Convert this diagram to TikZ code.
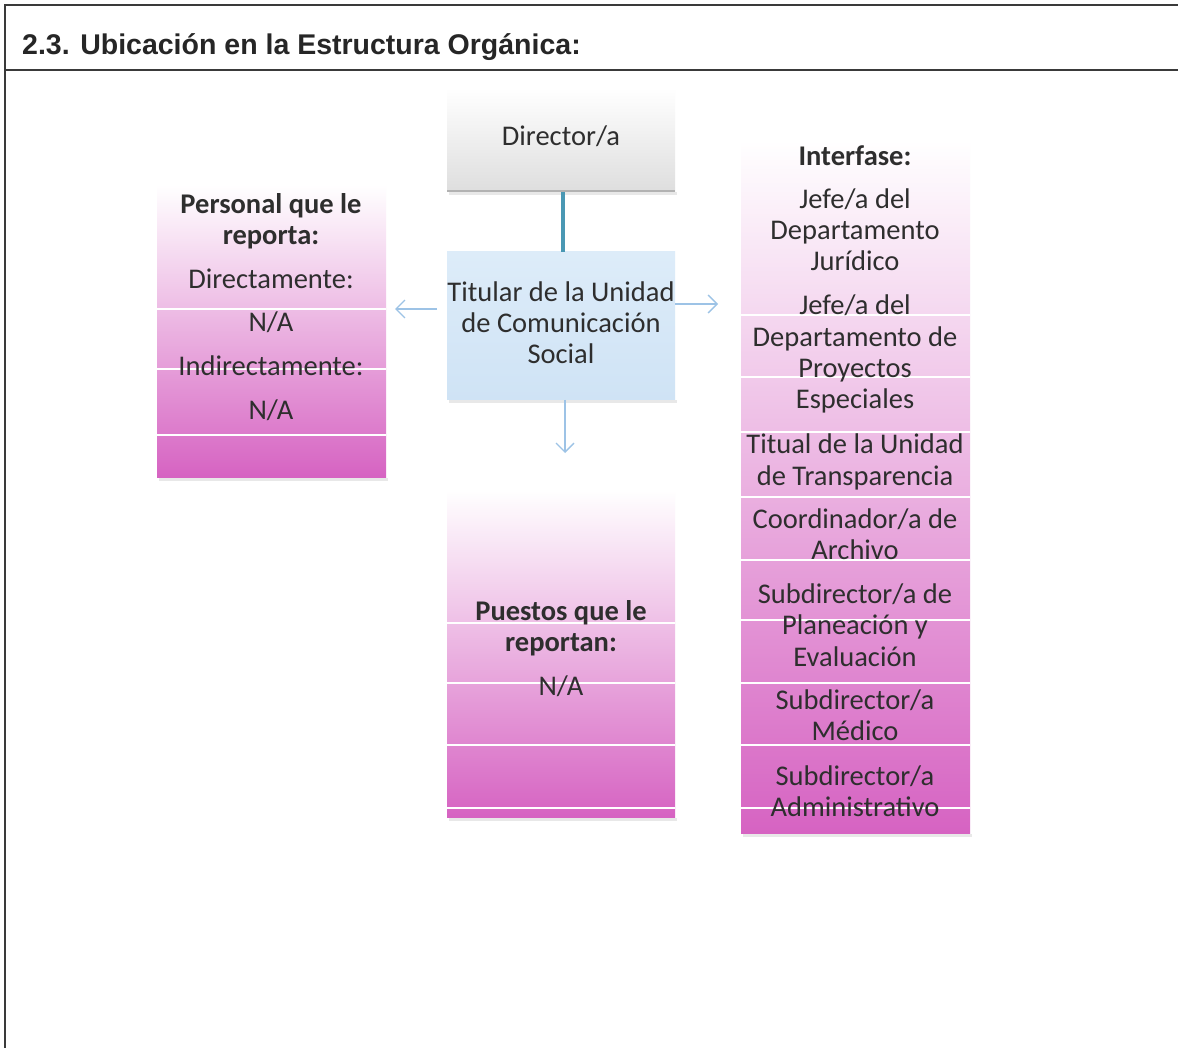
\documentclass[tikz,border=0pt]{standalone}
\usepackage{fontspec}
\setmainfont{Carlito}
\newfontfamily\headfont{Liberation Sans}
\usetikzlibrary{arrows.meta}
\definecolor{mag}{HTML}{D663C2}
\definecolor{magmid}{HTML}{EDB5E3}
\definecolor{arrowblue}{HTML}{9DC3E6}
\definecolor{linkteal}{HTML}{4A98B4}
\definecolor{boxblue}{HTML}{CFE3F5}
\definecolor{boxbluetop}{HTML}{DDECF9}
\definecolor{framegray}{HTML}{3A3A3A}
\begin{document}
\begin{tikzpicture}[x=1pt,y=-1pt,
  txt/.style={font=\fontsize{28.5}{31}\selectfont, inner sep=0pt, anchor=base, text=black!82},
  btxt/.style={txt, font=\bfseries\fontsize{28.5}{31}\selectfont},
  band/.style={draw=white, line width=2pt},
  shadowline/.style={draw=black!9, line width=3pt},
  conn/.style={draw=arrowblue, line width=1.3pt, -{Straight Barb[length=9pt,width=18pt,line width=1.3pt]}}
]
\useasboundingbox (0,0) rectangle (1178,1048);
\fill[white] (0,0) rectangle (1178,1048);

% frame
\draw[framegray, line width=2.5pt] (5,1048) -- (5,5) -- (1178,5);
\draw[framegray, line width=2.5pt] (5,70) -- (1178,70);
\node[anchor=base west, inner sep=0pt, text=black!85,
      font=\headfont\bfseries\fontsize{28.5}{32}\selectfont] (head) at (22,55)
      {2.3. Ubicación en la Estructura Orgánica:};

% ---------- Director box ----------
\draw[shadowline] (449,194) -- (677,194);
\shade[top color=white, bottom color=black!13] (447,88) rectangle (675,192);
\draw[black!30, line width=2pt] (447,191) -- (675,191);
\coordinate (dirS) at (563,192);
\node[txt] (dir) at (561,146) {Director/a};

% ---------- Titular box ----------
\draw[shadowline] (449,402) -- (677,402);
\shade[top color=boxbluetop, bottom color=boxblue] (447,252) rectangle (675,400);
\coordinate (titN) at (563,252);
\node[txt] (t1) at (561,302) {Titular de la Unidad};
\node[txt] (t2) at (561,333) {de Comunicación};
\node[txt] (t3) at (561,364) {Social};
\draw[linkteal, line width=4pt] (dirS) -- (titN);

% arrows
\coordinate (titW) at (437,309);
\coordinate (leftEnd) at (395,309);
\coordinate (titE) at (675,304);
\coordinate (rightEnd) at (718,304);
\coordinate (titS) at (565,400);
\coordinate (downEnd) at (565,453);
\draw[conn] (titW) -- (leftEnd);
\draw[conn] (titE) -- (rightEnd);
\draw[conn] (titS) -- (downEnd);

% ---------- Left box ----------
\draw[shadowline] (159,479) -- (388,479);
\shade[top color=white, middle color=magmid, bottom color=mag] (157,185) rectangle (386,477);
\foreach \yy in {309,369,435} \draw[band] (157,\yy) -- (386,\yy);
\node[btxt] (l1) at (271,214) {Personal que le};
\node[btxt] (l2) at (271,245) {reporta:};
\node[txt] (l3) at (271,289) {Directamente:};
\node[txt] (l4) at (271,332) {N/A};
\node[txt] (l5) at (271,376) {Indirectamente:};
\node[txt] (l6) at (271,419) {N/A};

% ---------- Middle bottom box ----------
\draw[shadowline] (449,819) -- (677,819);
\shade[top color=white, middle color=magmid, bottom color=mag] (447,490) rectangle (675,817);
\foreach \yy in {623,683,745,808} \draw[band] (447,\yy) -- (675,\yy);
\node[btxt] (m1) at (561,620) {Puestos que le};
\node[btxt] (m2) at (561,651) {reportan:};
\node[txt] (m3) at (561,695) {N/A};

% ---------- Right box ----------
\draw[shadowline] (743,835) -- (972,835);
\shade[top color=white, middle color=magmid, bottom color=mag] (741,140) rectangle (970,833);
\foreach \yy in {315,377,432,497,560,620,683,745,808} \draw[band] (741,\yy) -- (970,\yy);
\node[btxt] (r0) at (855,166) {Interfase:};
\foreach \yy/\tt [count=\i] in {
  209/{Jefe/a del}, 240/{Departamento}, 271/{Jurídico},
  315/{Jefe/a del}, 347/{Departamento de}, 378/{Proyectos}, 409/{Especiales},
  453/{Titual de la Unidad}, 485/{de Transparencia},
  528/{Coordinador/a de}, 559/{Archivo},
  603/{Subdirector/a de}, 634/{Planeación y}, 666/{Evaluación},
  709/{Subdirector/a}, 740/{Médico},
  785/{Subdirector/a}, 816/{Administrativo}}
  \node[txt] (r\i) at (855,\yy) {\tt};
\end{tikzpicture}
\end{document}
